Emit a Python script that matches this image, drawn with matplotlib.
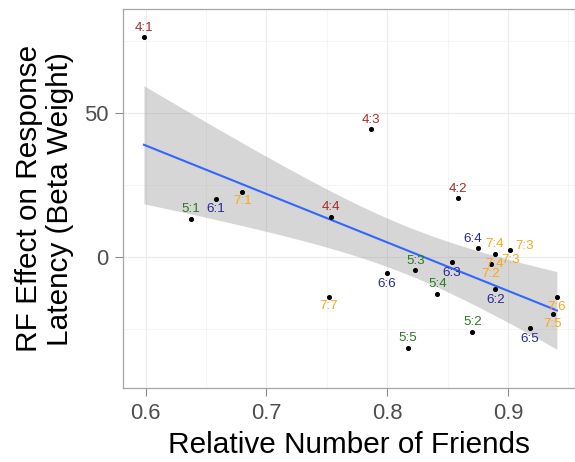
import numpy as np
import matplotlib
matplotlib.use('Agg')
import matplotlib.pyplot as plt
from matplotlib.ticker import MultipleLocator

plt.rcParams['font.family'] = ['Liberation Sans', 'DejaVu Sans']

labels = ['4:1', '4:2', '4:3', '4:4',
          '5:1', '5:2', '5:3', '5:4', '5:5',
          '6:1', '6:2', '6:3', '6:4', '6:5', '6:6',
          '7:1', '7:2', '7:3', '7:4', '7:5', '7:6', '7:7']
rel_friends = [0.5986, 0.8589, 0.787, 0.7537,
               0.6374, 0.8705, 0.8234, 0.8416, 0.8173,
               0.658, 0.8895, 0.8534, 0.8752, 0.9179, 0.800,
               0.680, 0.886, 0.9019, 0.8893, 0.9369, 0.9405, 0.7515]
beta = [76.2, 20.3, 44.2, 13.8,
        13.1, -26.1, -4.7, -12.9, -31.6,
        20.1, -11.2, -1.7, 2.9, -24.8, -5.6,
        22.6, -2.5, 2.2, 1.0, -19.9, -14.0, -13.9]

group_colors = {'4': '#a52a2a', '5': '#2a7a1e', '6': '#27289a', '7': '#ffa31a'}

# label placement (points): above / below the dot, a few special ones
off = {'6:1': (0, -7), '6:2': (0, -8), '6:3': (0, -8), '6:5': (0, -8), '6:6': (0, -8),
       '7:1': (0, -7), '7:2': (0, -7), '7:5': (0, -7), '7:6': (0, -7), '7:7': (0, -7),
       '7:3': (10, 3), '6:4': (-4, 7)}
extra = [('7:4', (0, -7)), ('7:3', (0, -7))]

x = np.array(rel_friends)
y = np.array(beta)

# linear fit with 95% confidence band
n = len(x)
slope, icpt = np.polyfit(x, y, 1)
resid = y - (slope * x + icpt)
s = np.sqrt(np.sum(resid ** 2) / (n - 2))
xs = np.linspace(x.min(), x.max(), 100)
se = s * np.sqrt(1 / n + (xs - x.mean()) ** 2 / np.sum((x - x.mean()) ** 2))
tval = 2.086
fit = slope * xs + icpt

fig = plt.figure(figsize=(5.75, 4.62), dpi=100)
ax = fig.add_axes([0.2144, 0.1595, 0.7856, 0.8204])

ax.fill_between(xs, fit - tval * se, fit + tval * se, color='#999999', alpha=0.4, lw=0, zorder=2)
ax.plot(xs, fit, color='#3366ff', lw=1.5, zorder=3)
ax.scatter(x, y, s=7, color='black', zorder=4)

for lab, xi, yi in zip(labels, x, y):
    dx, dy = off.get(lab, (0, 7))
    ax.annotate(lab, (xi, yi), xytext=(dx, dy), textcoords='offset points',
                ha='center', va='center', fontsize=9.6, color=group_colors[lab[0]], zorder=5)
for lab, (dx, dy) in extra:
    i = labels.index(lab)
    ax.annotate(lab, (x[i], y[i]), xytext=(dx, dy), textcoords='offset points',
                ha='center', va='center', fontsize=9.6, color=group_colors[lab[0]], zorder=5)

ax.set_xlim(0.5815, 0.9555)
ax.set_ylim(-45.7, 85.9)
ax.xaxis.set_major_locator(MultipleLocator(0.1))
ax.xaxis.set_minor_locator(MultipleLocator(0.05))
ax.set_yticks([0, 50])
ax.yaxis.set_minor_locator(MultipleLocator(25))
ax.grid(True, which='major', color='#ebebeb', lw=0.8, zorder=0)
ax.grid(True, which='minor', color='#f4f4f4', lw=0.6, zorder=0)
ax.set_axisbelow(True)
for sp in ax.spines.values():
    sp.set_color('#a6a6a6')
    sp.set_linewidth(0.9)
ax.tick_params(which='major', length=5.5, color='#8c8c8c', labelsize=15.8,
               labelcolor='#4d4d4d', pad=5)
ax.tick_params(which='minor', length=0)

ax.set_xlabel('Relative Number of Friends', fontsize=21.4, labelpad=5)
ax.set_ylabel('RF Effect on Response\nLatency (Beta Weight)', fontsize=21.4, labelpad=7,
              linespacing=1.15)

fig.savefig('out.png', dpi=100)
